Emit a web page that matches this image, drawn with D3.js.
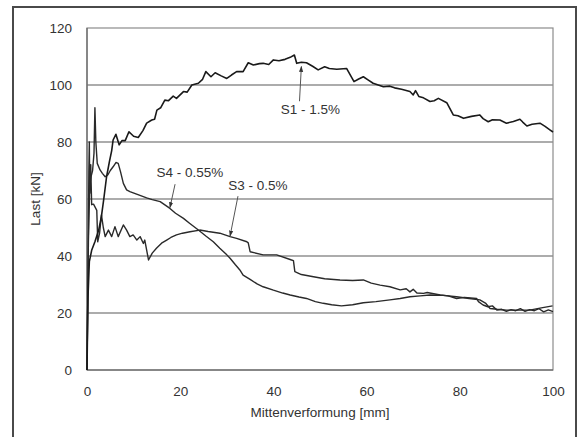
<!DOCTYPE html>
<html><head><meta charset="utf-8">
<script src="https://cdn.jsdelivr.net/npm/d3@7"></script>
<style>
html,body{margin:0;padding:0;background:#fff;}
svg{display:block;font-family:"Liberation Sans",Arial,sans-serif;}
</style></head>
<body>
<svg id="chart" width="579" height="437"></svg>
<script>
// ---- data (Mittenverformung [mm], Last [kN]) ----
const s1X = [0,0.2,0.5,1.0,1.7,2.5,3.1,3.6,4.2,4.8,5.3,5.6,6.2,6.9,7.5,8.2,9.0,10,11,12,12.8,13.9,14.5,15,15.8,16.7,17.5,18.5,19.2,20.7,21.5,22.5,23.9,24.8,25.5,26.6,27.5,28.8,30,31,32.1,33.5,34.6,35.7,37,37.8,39,40,41.2,42.5,43.6,44.5,45,46,47.1,48.5,49.6,51,52,53.6,55.7,57.3,58.2,59.3,60.3,61.4,62.5,63.6,65,66,67.5,69.3,70,70.5,71.2,72.2,73.6,74.5,75.4,77.2,78.6,79.6,80.8,82.5,84.3,85,86.1,87,88.6,90,91.5,92.9,93.5,94.4,95.5,97.2,98.3,99.4,100];
const s1Y = [0,25,38,42,45,49,54,60,67.8,73,77,80.7,82.7,79,80.5,80.5,83.6,82,81.6,84,86.6,87.7,88,91.2,92,94.7,94.5,96.1,95.3,97.7,97.5,100,100.6,102,104.7,102.9,104.3,103.2,102.3,103.5,104.7,104.7,107.8,107,107.5,107.6,107.2,108.8,108.5,109,109.7,110.5,107.6,108,107.8,106.5,105.3,106.4,105.8,105.5,105.8,101.2,102,102.9,101.8,100.6,100,99.4,99.6,99,98.5,97.7,96.5,98,96,95.5,94.2,94.5,95.3,93.8,89.5,89.2,88.3,89,89.5,88.2,87.1,87.8,87.7,86.6,87.2,88,87,85.6,86.2,86.6,85.5,84.2,83.5];

const s3X = [0,0.2,0.4,0.5,0.6,0.8,1.0,1.4,2.1,2.3,2.7,3.1,3.5,3.9,4.6,5.3,6.0,6.7,7.8,8.5,9.2,9.9,10.7,11.4,12.1,12.4,13.2,14.0,14.9,16,17.1,18,19.2,20.5,22.1,24.2,26,28.5,30.7,32.1,34.3,34.6,35,37.8,40.7,43.9,44.3,44.6,46,48.6,51,54.3,57,59.3,61,62.9,65,67.2,68.5,69.3,70,70.8,72.2,73,75.8,77.5,79.3,81,83.6,84,85,86,87,88,89,90,91,92,93,94,95,96,97,98,99,100];
const s3Y = [0,30,70,80,62,72,58,58.2,56,45,48,54.4,50,46.8,49.1,46.8,50.3,46.8,50.9,49.1,46.8,47.4,45.6,46.8,44.4,45.6,38.6,41,42.7,44.5,45.6,46.5,47.4,48,48.5,49.1,48.6,48,46.8,46.2,45,44.6,41.5,40.4,40.4,38.6,38.4,34.5,33.5,32.7,32,31.6,31.4,31.6,30.5,29.8,29.2,28.1,28.5,27.4,28.3,27,26.9,27.2,26.3,26,25.1,25.5,25.1,24,22.8,22.2,22.5,21,21.3,20.6,21.2,20.8,21.5,20.6,21.2,20.8,21.5,20.4,21.1,20.5];

const s4X = [0,0.3,0.6,0.9,1.2,1.5,1.7,1.9,2.2,2.8,3.3,3.9,4.5,5.0,5.6,6.2,6.7,7.2,7.8,8.5,9.2,10.5,12.8,14,15.7,17.8,19,20.7,22,23.9,25.5,27.1,28.5,30,30.7,31.8,32.8,33.5,35,36.5,37.8,40,42,43.6,45.5,47.1,49,50.7,52.5,54.6,57,59.3,62,65,67.2,69.3,71.5,73.6,76.5,79.3,82,84.3,85.5,86.5,88,90,92.5,95,97.5,99.9];
const s4Y = [0,45,65,68,70,76,92,80,72.5,70.2,69,67.8,68.5,70,71.3,72.8,72.5,69.5,65.5,63.2,62.6,61.8,60.4,59.8,59.1,56.7,55,53.2,51.5,49.1,47,45,42.7,40.4,39.2,37,35.1,33.3,31.8,30.2,29.2,28,27,26.3,25.6,25.1,24,23.4,22.9,22.5,22.9,23.6,24,24.6,25.1,25.7,26,26.3,26.2,25.7,25.1,24.6,23.5,21.6,21.3,21,21,21,21.8,22.5];

const yTicks = [0,20,40,60,80,100,120];
const xTicks = [0,20,40,60,80,100];
const gridValues = [20,40,60,80,100];

// annotations: [label, textX, textY, arrowFromX, arrowFromY, arrowToX, arrowToY] in data units
const labels = ["S1 - 1.5%","S4 - 0.55%","S3 - 0.5%"];
const labelPos = [[41.6,90.0],[14.9,67.6],[30.3,63.2]];
const arrowFrom = [[45.6,94.3],[18.9,65.2],[32.4,61.0]];
const arrowTo = [[46.0,106.5],[17.8,57.0],[30.7,47.0]];

// ---- drawing ----
const svg = d3.select("#chart");
const x = d3.scaleLinear().domain([0,100]).range([87,553]);
const y = d3.scaleLinear().domain([0,120]).range([370,28]);

// outer frame
svg.append("rect").attr("x",13).attr("y",7).attr("width",563).attr("height",440)
  .attr("fill","#fff").attr("stroke","#4a4a4a").attr("stroke-width",2);

// grid lines
svg.append("g").selectAll("line").data(gridValues).join("line")
  .attr("x1",x(0)).attr("x2",x(100)).attr("y1",d=>y(d)).attr("y2",d=>y(d))
  .attr("stroke","#5a5a5a").attr("stroke-width",1.1);

// plot border
svg.append("rect").attr("x",x(0)).attr("y",y(120)).attr("width",x(100)-x(0)).attr("height",y(0)-y(120))
  .attr("fill","none").attr("stroke","#8c8c8c").attr("stroke-width",1.2);
svg.append("line").attr("x1",x(0)).attr("x2",x(100)).attr("y1",y(0)).attr("y2",y(0))
  .attr("stroke","#555").attr("stroke-width",1.2);
svg.append("line").attr("x1",x(0)).attr("x2",x(0)).attr("y1",y(0)).attr("y2",y(120))
  .attr("stroke","#666").attr("stroke-width",1.2);

// axes
const yAxis = svg.append("g").attr("transform",`translate(${x(0)},0)`)
  .call(d3.axisLeft(y).tickValues(yTicks).tickSize(0).tickPadding(15));
const xAxis = svg.append("g").attr("transform",`translate(0,${y(0)})`)
  .call(d3.axisBottom(x).tickValues(xTicks).tickSize(0).tickPadding(16));
[yAxis,xAxis].forEach(a=>{
  a.select(".domain").remove();
  a.selectAll("text").attr("font-size",13.5).attr("fill","#333")
    .attr("font-family","'Liberation Sans',Arial,sans-serif");
});

// axis titles
svg.append("text").attr("x",320).attr("y",417).attr("text-anchor","middle")
  .attr("font-size",13.5).attr("fill","#333").text("Mittenverformung [mm]");
svg.append("text").attr("transform","translate(40,199) rotate(-90)").attr("text-anchor","middle")
  .attr("font-size",13.5).attr("fill","#333").text("Last [kN]");

// series
const line = d3.line().x(d=>x(d[0])).y(d=>y(d[1]));
const series = [
  {xs:s3X, ys:s3Y, color:"#2a2a2a", w:1.4},
  {xs:s4X, ys:s4Y, color:"#2a2a2a", w:1.4},
  {xs:s1X, ys:s1Y, color:"#1a1a1a", w:1.6}
];
series.forEach(s=>{
  svg.append("path").datum(s.xs.map((v,i)=>[v,s.ys[i]]))
    .attr("d",line).attr("fill","none").attr("stroke",s.color)
    .attr("stroke-width",s.w).attr("stroke-linejoin","round");
});

// arrow marker
svg.append("defs").append("marker").attr("id","ah").attr("viewBox","0 0 10 10")
  .attr("refX",9).attr("refY",5).attr("markerWidth",6).attr("markerHeight",6)
  .attr("orient","auto").append("path").attr("d","M0,1.5 L10,5 L0,8.5 Z").attr("fill","#333");

labels.forEach((t,i)=>{
  svg.append("line")
    .attr("x1",x(arrowFrom[i][0])).attr("y1",y(arrowFrom[i][1]))
    .attr("x2",x(arrowTo[i][0])).attr("y2",y(arrowTo[i][1]))
    .attr("stroke","#555").attr("stroke-width",1).attr("marker-end","url(#ah)");
  svg.append("text").attr("x",x(labelPos[i][0])).attr("y",y(labelPos[i][1]))
    .attr("font-size",13.5).attr("fill","#333").text(t);
});
</script>
</body></html>
